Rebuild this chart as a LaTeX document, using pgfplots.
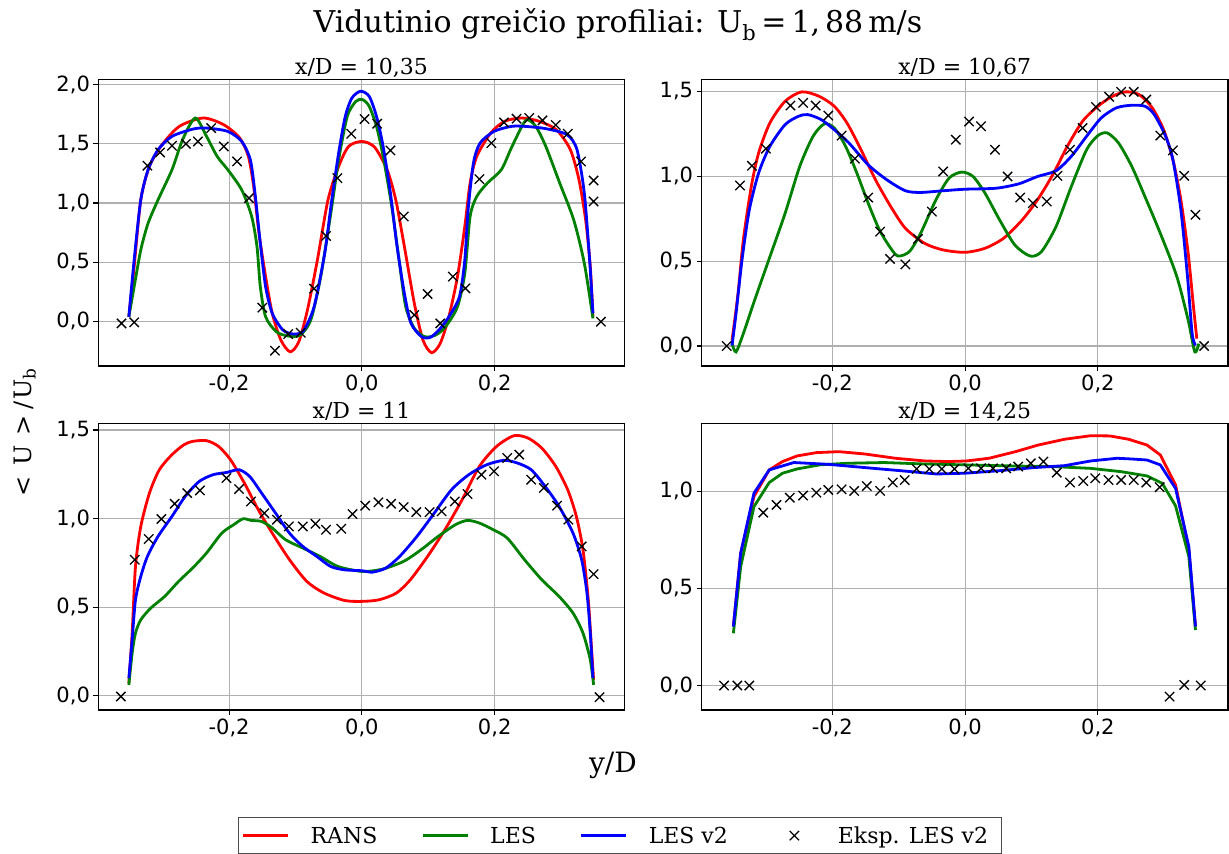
\documentclass[border=0pt]{standalone}
\usepackage{fontspec}
\setmainfont{DejaVu Serif}
\newfontfamily\ticksfont{DejaVu Sans}
\usepackage{pgfplots}
\pgfplotsset{compat=1.18}
\definecolor{gridgray}{HTML}{B0B0B0}
\definecolor{mplred}{HTML}{FF0000}
\definecolor{mplgreen}{HTML}{008000}
\definecolor{mplblue}{HTML}{0000FF}
\pgfplotsset{
  panel/.style={
    scale only axis, width=526.5pt, height=286.7pt,
    xmin=-0.397, xmax=0.396,
    xtick={-0.2,0,0.2},
    grid=major, grid style={color=gridgray, line width=1.1pt},
    axis line style={line width=1.1pt, black},
    tick align=outside, tick pos=left,
    major tick length=4.9pt,
    every tick/.style={black, line width=1.1pt},
    tick label style={font=\ticksfont\fontsize{21}{21}\selectfont},
    xticklabel style={/pgf/number format/.cd, fixed, fixed zerofill, precision=1, use comma, assume math mode=true},
    yticklabel style={/pgf/number format/.cd, fixed, fixed zerofill, precision=1, use comma, assume math mode=true},
    every axis title shift=0pt,
    title style={font=\fontsize{22}{24}\selectfont, anchor=base, at={(0.5,1)}, yshift=4.5pt},
  },
  linelegend/.style={legend image code/.code={\draw[##1] (0pt,0pt) -- (45pt,0pt);}},
  marklegend/.style={legend image code/.code={\path[draw=none,fill=none] (0pt,0pt) -- (45pt,0pt); \draw[mark repeat=2,mark phase=2,##1] plot coordinates {(0pt,0pt) (22.5pt,0pt) (45pt,0pt)};}},
  rans/.style={color=mplred, line width=2.8pt, smooth, tension=0.45, no marks, linelegend},
  les/.style={color=mplgreen, line width=2.8pt, smooth, tension=0.45, no marks, linelegend},
  lestwo/.style={color=mplblue, line width=2.8pt, smooth, tension=0.45, no marks, linelegend},
  eksp/.style={only marks, mark=x, mark size=6.6pt, color=black, mark options={line width=1.3pt, black}, marklegend},
}
\begin{document}
\begin{tikzpicture}
\useasboundingbox (0pt,0pt) rectangle (1229pt,854pt);
% ---------------- top left ----------------
\begin{axis}[panel, at={(98.3pt,488pt)}, anchor=south west,
  ymin=-0.377, ymax=2.045, ytick={0,0.5,1,1.5,2}, title={x/D = 10,35}]
\addplot[rans] coordinates {(-0.351,0.039) (-0.343,0.463) (-0.333,1.027) (-0.320,1.309) (-0.301,1.492) (-0.275,1.647) (-0.239,1.718) (-0.208,1.661) (-0.184,1.549) (-0.171,1.394) (-0.163,1.140) (-0.155,0.745) (-0.145,0.378) (-0.135,0.068) (-0.122,-0.158) (-0.108,-0.257) (-0.095,-0.172) (-0.082,0.096) (-0.067,0.519) (-0.051,1.027) (-0.035,1.309) (-0.020,1.478) (0,1.520) (0.019,1.473) (0.038,1.281) (0.051,1.027) (0.064,0.632) (0.079,0.152) (0.092,-0.158) (0.105,-0.265) (0.118,-0.186) (0.131,0.039) (0.144,0.378) (0.155,0.801) (0.163,1.168) (0.173,1.394) (0.194,1.591) (0.215,1.690) (0.241,1.718) (0.267,1.690) (0.293,1.619) (0.314,1.450) (0.327,1.196) (0.337,0.858) (0.344,0.463) (0.348,0.039)};
\addplot[les] coordinates {(-0.351,0.039) (-0.343,0.293) (-0.333,0.604) (-0.322,0.829) (-0.307,1.027) (-0.286,1.281) (-0.270,1.535) (-0.251,1.718) (-0.234,1.563) (-0.218,1.394) (-0.202,1.281) (-0.181,1.111) (-0.166,0.886) (-0.158,0.632) (-0.153,0.293) (-0.145,0.039) (-0.129,-0.087) (-0.111,-0.124) (-0.093,-0.116) (-0.077,0.011) (-0.062,0.378) (-0.046,0.942) (-0.035,1.365) (-0.022,1.732) (-0.009,1.859) (0.001,1.873) (0.011,1.817) (0.022,1.647) (0.032,1.394) (0.045,0.970) (0.056,0.519) (0.066,0.124) (0.079,-0.059) (0.095,-0.130) (0.111,-0.116) (0.126,-0.045) (0.144,0.124) (0.155,0.406) (0.163,0.886) (0.173,1.055) (0.189,1.168) (0.210,1.281) (0.225,1.464) (0.241,1.647) (0.249,1.704) (0.262,1.647) (0.277,1.478) (0.298,1.168) (0.319,0.858) (0.335,0.491) (0.348,0.025)};
\addplot[lestwo] coordinates {(-0.351,0.039) (-0.343,0.519) (-0.333,1.027) (-0.322,1.281) (-0.307,1.450) (-0.286,1.563) (-0.254,1.625) (-0.234,1.633) (-0.202,1.605) (-0.181,1.520) (-0.168,1.365) (-0.161,1.083) (-0.153,0.660) (-0.145,0.293) (-0.135,0.068) (-0.119,-0.073) (-0.103,-0.107) (-0.088,-0.079) (-0.072,0.124) (-0.056,0.575) (-0.046,0.999) (-0.035,1.422) (-0.025,1.732) (-0.015,1.887) (-0.002,1.944) (0.011,1.901) (0.022,1.732) (0.032,1.478) (0.043,1.083) (0.053,0.632) (0.064,0.237) (0.074,-0.017) (0.090,-0.130) (0.103,-0.135) (0.116,-0.073) (0.131,0.039) (0.147,0.209) (0.155,0.519) (0.160,0.942) (0.168,1.337) (0.178,1.506) (0.199,1.605) (0.225,1.647) (0.246,1.647) (0.277,1.628) (0.309,1.577) (0.324,1.450) (0.335,1.083) (0.343,0.519) (0.348,0.068)};
\addplot[eksp] coordinates {(-0.362,-0.017) (-0.343,-0.008) (-0.323,1.315) (-0.304,1.427) (-0.286,1.484) (-0.265,1.500) (-0.247,1.520) (-0.227,1.633) (-0.208,1.478) (-0.188,1.351) (-0.170,1.041) (-0.150,0.116) (-0.131,-0.248) (-0.111,-0.107) (-0.092,-0.096) (-0.072,0.276) (-0.054,0.722) (-0.037,1.210) (-0.016,1.585) (0.004,1.709) (0.023,1.670) (0.043,1.444) (0.063,0.886) (0.079,0.054) (0.099,0.231) (0.118,-0.017) (0.137,0.378) (0.156,0.279) (0.177,1.202) (0.195,1.506) (0.214,1.681) (0.233,1.712) (0.252,1.718) (0.272,1.698) (0.292,1.659) (0.310,1.585) (0.330,1.351) (0.349,1.190) (0.349,1.013) (0.360,-0.003)};
\end{axis}
% ---------------- top right ----------------
\begin{axis}[panel, at={(701.5pt,488pt)}, anchor=south west,
  ymin=-0.118, ymax=1.572, ytick={0,0.5,1,1.5}, title={x/D = 10,67}]
\addplot[rans] coordinates {(-0.351,0.034) (-0.342,0.309) (-0.334,0.625) (-0.322,0.940) (-0.311,1.137) (-0.294,1.315) (-0.271,1.443) (-0.246,1.498) (-0.220,1.472) (-0.197,1.413) (-0.178,1.315) (-0.158,1.167) (-0.135,0.980) (-0.112,0.822) (-0.090,0.694) (-0.061,0.605) (-0.033,0.566) (0,0.552) (0.030,0.576) (0.058,0.635) (0.086,0.743) (0.109,0.861) (0.132,1.009) (0.154,1.177) (0.177,1.325) (0.200,1.413) (0.222,1.472) (0.242,1.498) (0.262,1.482) (0.282,1.403) (0.299,1.275) (0.313,1.098) (0.325,0.861) (0.336,0.546) (0.344,0.231) (0.349,0.043)};
\addplot[les] coordinates {(-0.351,0.014) (-0.345,-0.035) (-0.334,0.073) (-0.317,0.270) (-0.294,0.526) (-0.271,0.783) (-0.249,1.059) (-0.229,1.236) (-0.212,1.309) (-0.197,1.285) (-0.180,1.177) (-0.163,1.019) (-0.146,0.842) (-0.129,0.684) (-0.112,0.576) (-0.101,0.530) (-0.084,0.556) (-0.067,0.664) (-0.044,0.861) (-0.024,0.990) (-0.005,1.025) (0.012,0.999) (0.030,0.901) (0.052,0.743) (0.075,0.595) (0.098,0.530) (0.115,0.556) (0.137,0.704) (0.160,0.940) (0.183,1.157) (0.200,1.240) (0.214,1.256) (0.231,1.197) (0.251,1.059) (0.273,0.861) (0.296,0.645) (0.319,0.408) (0.336,0.152) (0.346,-0.035) (0.352,0.014)};
\addplot[lestwo] coordinates {(-0.351,0.004) (-0.345,0.191) (-0.336,0.507) (-0.325,0.802) (-0.311,1.019) (-0.294,1.177) (-0.271,1.305) (-0.251,1.354) (-0.237,1.364) (-0.217,1.335) (-0.197,1.275) (-0.175,1.197) (-0.146,1.068) (-0.118,0.980) (-0.090,0.915) (-0.067,0.905) (-0.033,0.915) (0,0.924) (0.047,0.930) (0.081,0.956) (0.109,0.999) (0.137,1.033) (0.160,1.118) (0.183,1.236) (0.205,1.344) (0.228,1.404) (0.251,1.419) (0.271,1.413) (0.285,1.364) (0.302,1.236) (0.313,1.098) (0.325,0.802) (0.335,0.408) (0.342,0.073) (0.347,0.004)};
\addplot[eksp] coordinates {(-0.359,0.0) (-0.339,0.946) (-0.321,1.062) (-0.300,1.163) (-0.263,1.417) (-0.244,1.433) (-0.225,1.417) (-0.206,1.358) (-0.186,1.240) (-0.166,1.104) (-0.146,0.875) (-0.128,0.674) (-0.113,0.513) (-0.090,0.481) (-0.071,0.631) (-0.050,0.792) (-0.033,1.029) (-0.014,1.216) (0.006,1.323) (0.024,1.295) (0.045,1.157) (0.064,0.999) (0.083,0.875) (0.102,0.842) (0.123,0.852) (0.139,1.003) (0.158,1.157) (0.177,1.285) (0.197,1.409) (0.217,1.469) (0.235,1.498) (0.254,1.498) (0.273,1.453) (0.294,1.240) (0.313,1.153) (0.330,1.003) (0.347,0.773) (0.360,0.0)};
\end{axis}
% ---------------- bottom left ----------------
\begin{axis}[panel, at={(98.3pt,144pt)}, anchor=south west,
  ymin=-0.08, ymax=1.538, ytick={0,0.5,1,1.5}, title={x/D = 11},
  legend columns=4,
  legend style={at={(0.9909,-0.3732)}, anchor=north, draw=black!70, line width=1pt,
    font=\fontsize{22}{24}\selectfont, inner xsep=3pt, inner ysep=6pt, cells={anchor=west},
    /tikz/every odd column/.append style={column sep=11pt},
    /tikz/column 2/.append style={column sep=34pt},
    /tikz/column 4/.append style={column sep=34pt},
    /tikz/column 6/.append style={column sep=34pt},
    nodes={inner xsep=10pt, inner ysep=3pt}}]
\addplot[rans] coordinates {(-0.351,0.072) (-0.346,0.354) (-0.341,0.730) (-0.333,0.956) (-0.320,1.144) (-0.305,1.276) (-0.286,1.361) (-0.268,1.417) (-0.255,1.436) (-0.234,1.440) (-0.216,1.408) (-0.198,1.333) (-0.177,1.201) (-0.156,1.050) (-0.135,0.918) (-0.109,0.768) (-0.083,0.646) (-0.057,0.580) (-0.026,0.538) (0,0.533) (0.026,0.542) (0.052,0.580) (0.073,0.655) (0.099,0.787) (0.125,0.937) (0.151,1.107) (0.177,1.295) (0.203,1.408) (0.229,1.468) (0.250,1.455) (0.271,1.398) (0.292,1.295) (0.310,1.163) (0.323,1.013) (0.333,0.824) (0.341,0.542) (0.346,0.260) (0.349,0.090)};
\addlegendentry{RANS}
\addplot[les] coordinates {(-0.351,0.062) (-0.346,0.241) (-0.341,0.354) (-0.333,0.429) (-0.318,0.495) (-0.297,0.561) (-0.276,0.646) (-0.255,0.721) (-0.234,0.806) (-0.211,0.918) (-0.193,0.966) (-0.179,0.999) (-0.167,0.990) (-0.151,0.984) (-0.135,0.947) (-0.115,0.881) (-0.089,0.834) (-0.063,0.787) (-0.036,0.730) (0,0.702) (0.031,0.715) (0.063,0.759) (0.089,0.824) (0.115,0.900) (0.141,0.966) (0.159,0.990) (0.177,0.975) (0.198,0.937) (0.219,0.890) (0.245,0.768) (0.271,0.655) (0.297,0.561) (0.318,0.467) (0.333,0.354) (0.344,0.203) (0.349,0.062)};
\addlegendentry{LES}
\addplot[lestwo] coordinates {(-0.351,0.100) (-0.346,0.316) (-0.341,0.542) (-0.333,0.674) (-0.323,0.787) (-0.307,0.900) (-0.286,1.013) (-0.266,1.126) (-0.245,1.210) (-0.224,1.248) (-0.203,1.261) (-0.185,1.276) (-0.169,1.238) (-0.151,1.144) (-0.130,1.031) (-0.109,0.918) (-0.089,0.843) (-0.068,0.787) (-0.047,0.730) (-0.026,0.711) (0,0.706) (0.016,0.698) (0.036,0.721) (0.057,0.787) (0.083,0.900) (0.109,1.031) (0.135,1.163) (0.161,1.248) (0.188,1.304) (0.214,1.329) (0.234,1.314) (0.255,1.276) (0.276,1.182) (0.297,1.069) (0.318,0.918) (0.331,0.768) (0.339,0.580) (0.344,0.354) (0.348,0.100)};
\addlegendentry{LES v2}
\addplot[eksp] coordinates {(-0.363,-0.004) (-0.342,0.768) (-0.321,0.885) (-0.302,0.998) (-0.282,1.084) (-0.263,1.144) (-0.244,1.159) (-0.204,1.229) (-0.185,1.167) (-0.167,1.097) (-0.147,1.031) (-0.128,0.994) (-0.110,0.956) (-0.089,0.956) (-0.070,0.971) (-0.054,0.937) (-0.031,0.943) (-0.014,1.026) (0.005,1.073) (0.025,1.092) (0.044,1.084) (0.063,1.065) (0.082,1.037) (0.102,1.037) (0.120,1.041) (0.140,1.097) (0.159,1.139) (0.180,1.248) (0.199,1.267) (0.219,1.342) (0.237,1.361) (0.255,1.220) (0.274,1.173) (0.294,1.073) (0.311,0.994) (0.331,0.843) (0.349,0.687) (0.358,-0.008)};
\addlegendentry{Eksp. LES v2}
\end{axis}
% ---------------- bottom right ----------------
\begin{axis}[panel, at={(701.5pt,144pt)}, anchor=south west,
  ymin=-0.126, ymax=1.35, ytick={0,0.5,1}, title={x/D = 14,25}]
\addplot[rans, sharp plot] coordinates {(-0.349,0.304) (-0.338,0.681) (-0.318,0.973) (-0.295,1.110) (-0.275,1.153) (-0.253,1.182) (-0.224,1.199) (-0.190,1.204) (-0.151,1.192) (-0.105,1.170) (-0.060,1.156) (-0.026,1.153) (0.002,1.156) (0.036,1.170) (0.076,1.204) (0.110,1.238) (0.150,1.268) (0.189,1.286) (0.218,1.285) (0.246,1.268) (0.274,1.238) (0.294,1.187) (0.317,1.033) (0.337,0.698) (0.347,0.304)};
\addplot[les, sharp plot] coordinates {(-0.349,0.269) (-0.338,0.612) (-0.318,0.921) (-0.295,1.045) (-0.275,1.093) (-0.253,1.115) (-0.219,1.136) (-0.179,1.144) (-0.122,1.148) (-0.066,1.141) (0,1.136) (0.076,1.130) (0.133,1.127) (0.189,1.118) (0.235,1.101) (0.274,1.079) (0.297,1.041) (0.317,0.925) (0.337,0.664) (0.347,0.286)};
\addplot[lestwo, sharp plot] coordinates {(-0.349,0.304) (-0.338,0.681) (-0.318,0.990) (-0.295,1.110) (-0.258,1.148) (-0.207,1.139) (-0.151,1.122) (-0.094,1.105) (-0.043,1.089) (0,1.093) (0.048,1.105) (0.104,1.122) (0.150,1.132) (0.189,1.156) (0.229,1.170) (0.252,1.166) (0.274,1.161) (0.294,1.136) (0.317,1.015) (0.337,0.715) (0.347,0.304)};
\addplot[eksp] coordinates {(-0.363,0) (-0.343,0) (-0.325,0) (-0.304,0.890) (-0.284,0.930) (-0.264,0.967) (-0.244,0.978) (-0.224,0.993) (-0.206,1.007) (-0.186,1.010) (-0.167,1.002) (-0.148,1.027) (-0.128,1.002) (-0.109,1.045) (-0.091,1.058) (-0.073,1.115) (-0.054,1.115) (-0.035,1.115) (-0.016,1.115) (0.005,1.118) (0.024,1.118) (0.042,1.118) (0.062,1.118) (0.080,1.127) (0.099,1.144) (0.118,1.153) (0.138,1.096) (0.158,1.045) (0.178,1.053) (0.196,1.067) (0.216,1.058) (0.235,1.058) (0.254,1.058) (0.273,1.045) (0.293,1.021) (0.308,-0.057) (0.330,0.003) (0.355,0)};
\end{axis}
% ---------------- overall texts ----------------
\node[anchor=base, font=\fontsize{30}{32}\selectfont] at (618pt,821pt) {Vidutinio greičio profiliai: U\textsubscript{b}\,=\,1,\,88\,m/s};
\node[anchor=base, font=\fontsize{28}{30}\selectfont] at (613pt,81pt) {y/D};
\node[rotate=90, font=\fontsize{24}{26}\selectfont] at (25pt,422pt) {<\hspace{10pt}U\hspace{10pt}>\hspace{6pt}/\hspace{2pt}U\textsubscript{b}};
\end{tikzpicture}
\end{document}
